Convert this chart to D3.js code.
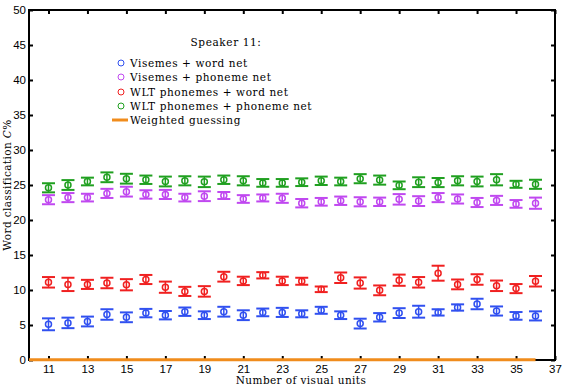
<!DOCTYPE html>
<html>
<head>
<meta charset="utf-8">
<script src="https://cdn.jsdelivr.net/npm/d3@7"></script>
<style>
  body { margin: 0; background: #fff; }
  svg text { fill: #000; }
</style>
</head>
<body>
<svg id="chart" width="565" height="386"></svg>
<script>
// number of visual units on the x axis
const units = d3.range(11, 37);

// means (%)
const visWord = [5.1, 5.3, 5.5, 6.5, 6.1, 6.7, 6.4, 6.9, 6.4, 6.9, 6.4, 6.8, 6.8, 6.6, 7.1, 6.4, 5.2, 6.1, 6.7, 6.9, 6.8, 7.5, 8.0, 7.0, 6.3, 6.3];
const visWordErr = [0.85, 0.75, 0.7, 0.75, 0.7, 0.6, 0.6, 0.6, 0.55, 0.7, 0.7, 0.55, 0.65, 0.5, 0.5, 0.55, 0.7, 0.6, 0.7, 0.85, 0.45, 0.45, 0.75, 0.65, 0.55, 0.65];

const visPhon = [22.9, 23.2, 23.2, 23.8, 24.05, 23.65, 23.65, 23.2, 23.4, 23.5, 23.0, 23.15, 23.1, 22.4, 22.6, 22.75, 22.6, 22.6, 22.95, 22.7, 23.2, 23.0, 22.5, 22.8, 22.3, 22.4];
const visPhonErr = [0.65, 0.65, 0.55, 0.65, 0.7, 0.6, 0.65, 0.55, 0.7, 0.5, 0.55, 0.5, 0.65, 0.6, 0.55, 0.6, 0.65, 0.6, 0.75, 0.7, 0.65, 0.65, 0.65, 0.65, 0.55, 0.8];

const wltWord = [11.1, 10.8, 10.8, 11.0, 10.75, 11.5, 10.4, 9.8, 9.8, 11.9, 11.3, 12.1, 11.3, 11.25, 10.1, 11.75, 11.0, 9.95, 11.4, 11.1, 12.4, 10.8, 11.5, 10.6, 10.2, 11.25];
const wltWordErr = [0.75, 0.95, 0.65, 0.75, 0.8, 0.65, 0.8, 0.65, 0.75, 0.7, 0.6, 0.45, 0.6, 0.5, 0.4, 0.75, 0.8, 0.7, 0.8, 0.75, 1.07, 0.7, 0.75, 0.75, 0.65, 0.75];

const wltPhon = [24.6, 25.0, 25.5, 26.1, 25.9, 25.75, 25.5, 25.6, 25.45, 25.75, 25.6, 25.3, 25.3, 25.4, 25.6, 25.5, 25.9, 25.7, 24.95, 25.4, 25.35, 25.6, 25.5, 25.75, 25.1, 25.1];
const wltPhonErr = [0.65, 0.7, 0.55, 0.7, 0.7, 0.6, 0.7, 0.65, 0.75, 0.6, 0.65, 0.55, 0.55, 0.55, 0.6, 0.55, 0.65, 0.65, 0.55, 0.7, 0.65, 0.65, 0.7, 0.8, 0.5, 0.65];

// weighted guessing baseline
const guessUnits = [10, 36];
const guessValues = [0.05, 0.05];

const xTicks = d3.range(11, 38, 2);
const yTicks = d3.range(0, 51, 5);

const seriesNames = ['Visemes + word net', 'Visemes + phoneme net', 'WLT phonemes + word net', 'WLT phonemes + phoneme net'];
const seriesColors = ['#3050f0', '#c048f0', '#f02020', '#20a020'];
const seriesMeans = [visWord, visPhon, wltWord, wltPhon];
const seriesErrs = [visWordErr, visPhonErr, wltWordErr, wltPhonErr];

const svg = d3.select('#chart');
const margin = {top: 10, right: 10, bottom: 26, left: 29};
const W = 565, H = 386;

const x = d3.scaleLinear().domain([10, 37]).range([margin.left, W - margin.right]);
const y = d3.scaleLinear().domain([0, 50]).range([H - margin.bottom, margin.top]);

// frame
svg.append('rect')
  .attr('x', x(10)).attr('y', y(50))
  .attr('width', x(37) - x(10)).attr('height', y(0) - y(50))
  .attr('fill', 'none').attr('stroke', '#000').attr('stroke-width', 2);

// ticks inside, on all four sides
const tickFont = 'Liberation Sans, Arial, sans-serif';
const xAxisB = svg.append('g').attr('transform', `translate(0,${y(0)})`)
  .call(d3.axisBottom(x).tickValues(xTicks).tickSize(-4).tickPadding(5));
const xAxisT = svg.append('g').attr('transform', `translate(0,${y(50)})`)
  .call(d3.axisTop(x).tickValues(xTicks).tickSize(-4).tickFormat(''));
const yAxisL = svg.append('g').attr('transform', `translate(${x(10)},0)`)
  .call(d3.axisLeft(y).tickValues(yTicks).tickSize(-4).tickPadding(3));
const yAxisR = svg.append('g').attr('transform', `translate(${x(37)},0)`)
  .call(d3.axisRight(y).tickValues(yTicks).tickSize(-4).tickFormat(''));

[xAxisB, xAxisT, yAxisL, yAxisR].forEach(g => {
  g.select('.domain').remove();
  g.selectAll('line').attr('stroke', '#000').attr('stroke-width', 2);
  g.selectAll('text').attr('font-family', tickFont).attr('font-size', 11.5).attr('fill', '#000');
});

// error bars + markers
const capW = 6.5;
seriesMeans.forEach((means, si) => {
  const col = seriesColors[si];
  const errs = seriesErrs[si];
  const g = svg.append('g');
  const pts = units.map((u, i) => ({u, m: means[i], e: errs[i]}));
  g.selectAll('line.v').data(pts).join('line')
    .attr('x1', d => x(d.u)).attr('x2', d => x(d.u))
    .attr('y1', d => y(d.m - d.e)).attr('y2', d => y(d.m + d.e))
    .attr('stroke', col).attr('stroke-width', 1.5);
  ['lo', 'hi'].forEach(k => {
    g.selectAll('line.' + k).data(pts).join('line')
      .attr('x1', d => x(d.u) - capW).attr('x2', d => x(d.u) + capW)
      .attr('y1', d => y(k === 'lo' ? d.m - d.e : d.m + d.e))
      .attr('y2', d => y(k === 'lo' ? d.m - d.e : d.m + d.e))
      .attr('stroke', col).attr('stroke-width', 2);
  });
  g.selectAll('circle').data(pts).join('circle')
    .attr('cx', d => x(d.u)).attr('cy', d => y(d.m)).attr('r', 3)
    .attr('fill', 'none').attr('stroke', col).attr('stroke-width', 1.5);
});

// weighted guessing line
svg.append('path')
  .datum(guessUnits.map((u, i) => [u, guessValues[i]]))
  .attr('d', d3.line().x(d => x(d[0])).y(d => y(d[1])))
  .attr('stroke', '#f08c1c').attr('stroke-width', 3).attr('fill', 'none');

// legend
const serif = 'DejaVu Serif, serif';
svg.append('text').attr('x', 226).attr('y', 46).attr('text-anchor', 'middle')
  .attr('font-family', serif).attr('font-size', 10.5).attr('letter-spacing', 0.6)
  .text('Speaker 11:');
const legY = [63, 77, 92, 106];
seriesNames.forEach((name, i) => {
  svg.append('circle').attr('cx', 121).attr('cy', legY[i]).attr('r', 3)
    .attr('fill', 'none').attr('stroke', seriesColors[i]).attr('stroke-width', 1);
  svg.append('text').attr('x', 130).attr('y', legY[i] + 4)
    .attr('font-family', serif).attr('font-size', 10.5).attr('letter-spacing', 0.6)
    .text(name);
});
svg.append('line').attr('x1', 112).attr('x2', 128).attr('y1', 120).attr('y2', 120)
  .attr('stroke', '#f08c1c').attr('stroke-width', 3);
svg.append('text').attr('x', 130).attr('y', 124)
  .attr('font-family', serif).attr('font-size', 10.5).attr('letter-spacing', 0.6)
  .text('Weighted guessing');

// axis titles
svg.append('text').attr('x', 301).attr('y', 384).attr('text-anchor', 'middle')
  .attr('font-family', serif).attr('font-size', 10.5).attr('letter-spacing', 0.4)
  .text('Number of visual units');
const yl = svg.append('text')
  .attr('transform', `translate(11,${y(25)}) rotate(-90)`)
  .attr('text-anchor', 'middle')
  .attr('font-family', serif).attr('font-size', 10.5).attr('letter-spacing', 0.4);
yl.append('tspan').text('Word classification ');
yl.append('tspan').attr('font-style', 'italic').text('C');
yl.append('tspan').text('%');
</script>
</body>
</html>
